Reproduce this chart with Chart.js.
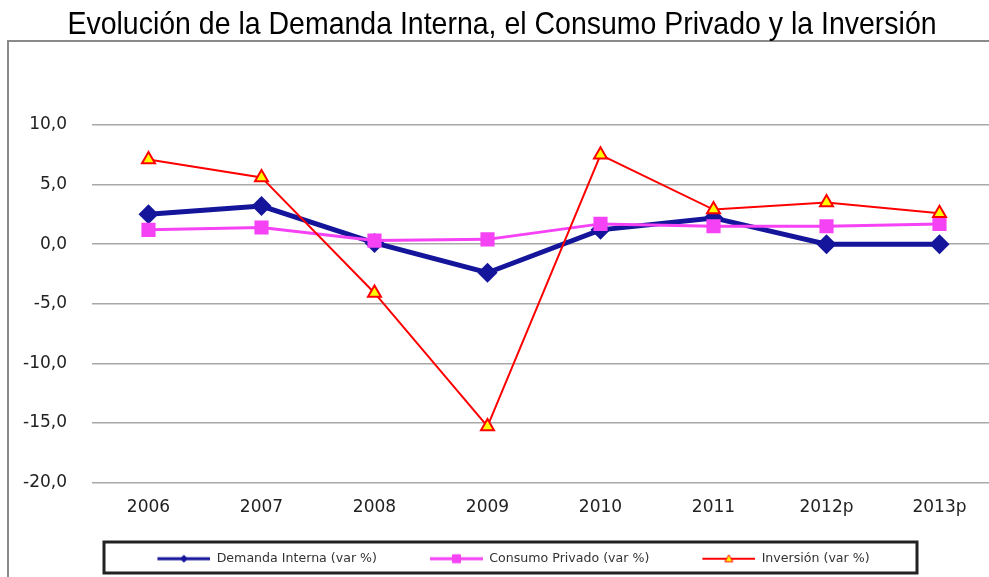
<!DOCTYPE html>
<html>
<head>
    <title>Evolución de la Demanda Interna</title>
    <script src="https://cdn.jsdelivr.net/npm/chart.js"></script>
    <style>
        html, body { margin: 0; padding: 0; background: #fff; overflow: hidden; }
        #wrap { position: relative; width: 1006px; height: 577px; }
        #title {
            position: absolute; left: 0; top: 7px; width: 1004px;
            text-align: center; white-space: nowrap;
            font-family: 'Liberation Sans', Arial, sans-serif; font-size: 32px; line-height: 32px;
            color: #000; transform: scaleX(0.89); transform-origin: 502px 0;
        }
    </style>
</head>
<body>
    <div id="wrap">
        <div id="title">Evolución de la Demanda Interna, el Consumo Privado y la Inversión</div>
        <canvas id="plot" width="1006" height="577"></canvas>
    </div>

    <script>
        // Chart values
        const years = ['2006', '2007', '2008', '2009', '2010', '2011', '2012p', '2013p'];
        const demandaInterna = [2.5, 3.2, 0.1, -2.4, 1.2, 2.2, 0.0, 0.0];
        const consumoPrivado = [1.2, 1.4, 0.3, 0.4, 1.7, 1.5, 1.5, 1.7];
        const inversion = [7.1, 5.6, -4.1, -15.3, 7.5, 2.9, 3.5, 2.6];
        const yMin = -20, yMax = 10, yStep = 5;

        // small line + marker picture for the legend
        function swatch(color, lineWidth, marker, fill, border) {
            const c = document.createElement('canvas');
            c.width = 96; c.height = 12;
            const g = c.getContext('2d');
            g.strokeStyle = color;
            g.lineWidth = lineWidth;
            g.beginPath(); g.moveTo(43, 6); g.lineTo(96, 6); g.stroke();
            g.fillStyle = fill;
            g.strokeStyle = border;
            g.lineWidth = 1;
            const x = 69.5, y = 6;
            g.beginPath();
            if (marker === 'diamond') {
                g.moveTo(x, y - 3.5); g.lineTo(x + 3.5, y); g.lineTo(x, y + 3.5); g.lineTo(x - 3.5, y);
            } else if (marker === 'square') {
                g.rect(x - 4, y - 4, 8, 8);
            } else {
                g.moveTo(x, y - 4); g.lineTo(x + 4, y + 3); g.lineTo(x - 4, y + 3);
            }
            g.closePath();
            g.fill(); g.stroke();
            return c;
        }

        const frame = {
            id: 'frame',
            afterLayout(chart) {
                // nudge the legend row a bit to the left, as in the original
                chart.legend.left -= 11;
                chart.legend.right -= 11;
            },
            beforeDraw(chart) {
                const ctx = chart.ctx;
                ctx.save();
                ctx.strokeStyle = '#8a8a8a';
                ctx.lineWidth = 2;
                ctx.beginPath();
                ctx.moveTo(8, chart.height);
                ctx.lineTo(8, 41);
                ctx.lineTo(chart.width, 41);
                ctx.stroke();
                ctx.restore();
            },
            afterDraw(chart) {
                const ctx = chart.ctx;
                ctx.save();
                ctx.strokeStyle = '#222';
                ctx.lineWidth = 3;
                ctx.strokeRect(104, 542, 813, 31);
                ctx.restore();
            }
        };

        const ctx = document.getElementById('plot').getContext('2d');
        const chart = new Chart(ctx, {
            type: 'line',
            data: {
                labels: years,
                datasets: [{
                    label: 'Demanda Interna (var %)',
                    data: demandaInterna,
                    borderColor: '#15159b',
                    backgroundColor: '#15159b',
                    borderWidth: 5,
                    pointStyle: 'rectRot',
                    pointRadius: 10,
                    pointBorderWidth: 0,
                    order: 2,
                    legendImg: swatch('#15159b', 3, 'diamond', '#15159b', '#15159b')
                }, {
                    label: 'Consumo Privado (var %)',
                    data: consumoPrivado,
                    borderColor: '#f542f5',
                    backgroundColor: '#f542f5',
                    borderWidth: 3,
                    pointStyle: 'rect',
                    pointRadius: 10,
                    pointBorderWidth: 0,
                    order: 1,
                    legendImg: swatch('#f542f5', 3, 'square', '#f542f5', '#f542f5')
                }, {
                    label: 'Inversión (var %)',
                    data: inversion,
                    borderColor: '#ff0000',
                    backgroundColor: '#ffff00',
                    borderWidth: 2,
                    pointStyle: 'triangle',
                    pointRadius: 7.5,
                    pointBorderWidth: 2,
                    pointBorderColor: '#ff0000',
                    order: 0,
                    legendImg: swatch('#ff0000', 2, 'triangle', '#ffff00', '#ff0000')
                }]
            },
            options: {
                responsive: false,
                animation: false,
                layout: { padding: { left: 0, right: 0, top: 125, bottom: 2 } },
                plugins: {
                    title: { display: false },
                    legend: {
                        position: 'bottom',
                        labels: {
                            usePointStyle: true,
                            pointStyleWidth: 96,
                            boxHeight: 12,
                            padding: 10,
                            color: '#333',
                            font: { family: "'DejaVu Sans', Verdana", size: 12.6 },
                            generateLabels(chart) {
                                return chart.data.datasets.map((ds, i) => ({
                                    text: ds.label,
                                    pointStyle: ds.legendImg,
                                    fontColor: '#333',
                                    hidden: !chart.isDatasetVisible(i),
                                    datasetIndex: i,
                                    lineWidth: 0
                                }));
                            }
                        }
                    },
                    tooltip: { enabled: false }
                },
                scales: {
                    x: {
                        offset: true,
                        grid: { display: false },
                        border: { display: false },
                        ticks: {
                            color: '#222',
                            padding: 7,
                            font: { family: "'DejaVu Sans', Verdana", size: 17 }
                        },
                        afterFit(scale) { scale.height = 60; }
                    },
                    y: {
                        min: yMin,
                        max: yMax,
                        grid: { color: '#a8a8a8', lineWidth: 1.5, drawTicks: false },
                        border: { display: false },
                        ticks: {
                            stepSize: yStep,
                            color: '#222',
                            padding: 25,
                            font: { family: "'DejaVu Sans', Verdana", size: 17 },
                            callback: v => v.toFixed(1).replace('.', ',')
                        },
                        afterFit(scale) { scale.width = 92; }
                    }
                }
            },
            plugins: [frame]
        });
    </script>
</body>
</html>
